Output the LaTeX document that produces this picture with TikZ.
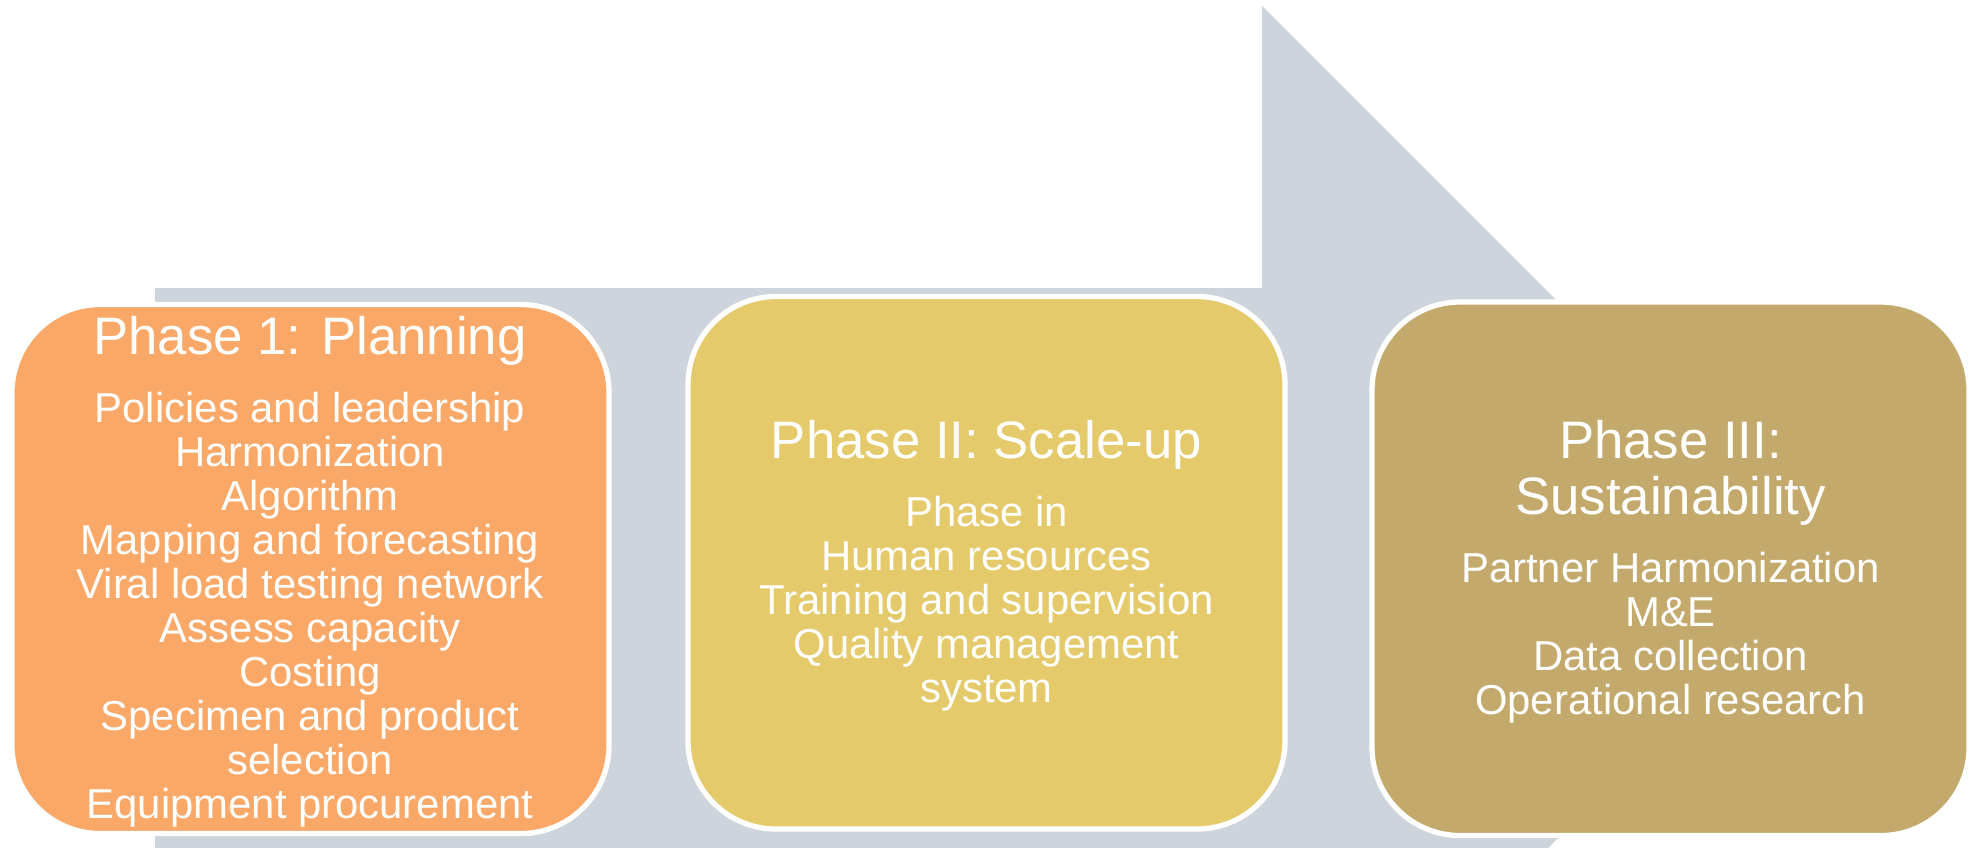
\documentclass[tikz,border=0pt]{standalone}
\usepackage{fontspec}
\setmainfont{Liberation Sans}
\usepackage{tikz}
\definecolor{arrowgrey}{RGB}{205,212,220}
\definecolor{phaseorange}{RGB}{249,168,104}
\definecolor{phaseyellow}{RGB}{228,202,106}
\definecolor{phasetan}{RGB}{195,169,107}
\tikzset{
	phasebox/.style={draw=white, line width=1.5pt, rounded corners=0.88cm},
	phasetitle/.style={text=white, anchor=base, inner sep=0pt, font=\fontsize{15}{16}\selectfont},
	phaseitem/.style={text=white, anchor=base, inner sep=0pt, font=\fontsize{11.9}{12.6}\selectfont}
}

\begin{document}
\begin{tikzpicture}[x=0.01cm, y=-0.01cm]
	\useasboundingbox (0,0) rectangle (1977,847);
	\begin{scope}
		\clip (0,0) rectangle (1977,847);
		\fill[arrowgrey] (155,288) -- (1262,288) -- (1262,6) -- (1826,570) -- (1262,1134) -- (1262,852) -- (155,852) -- cycle;
	\end{scope}

	\draw[phasebox, fill=phaseorange] (12,304.5) rectangle (609,833.5);
	\draw[phasebox, fill=phaseyellow] (688,296.5) rectangle (1285,829);
	\draw[phasebox, fill=phasetan] (1372,302) rectangle (1969,835.5);

	\node[phasetitle] (t1) at (310,354) {Phase 1: Planning};
	\foreach \txt [count=\i from 0] in {Policies and leadership, Harmonization, Algorithm, Mapping and forecasting, Viral load testing network, Assess capacity, Costing, Specimen and product, selection, Equipment procurement}
		\node[phaseitem] (a\i) at (310,422+44.1*\i) {\txt};

	\node[phasetitle] (t2) at (986.5,458) {Phase II: Scale-up};
	\foreach \txt [count=\i from 0] in {Phase in, Human resources, Training and supervision, Quality management, system}
		\node[phaseitem] (b\i) at (986.5,526+44*\i) {\txt};

	\node[phasetitle] (t3) at (1670.5,458) {Phase III:};
	\node[phasetitle] (t3b) at (1670.5,514) {Sustainability};
	\foreach \txt [count=\i from 0] in {Partner Harmonization, M\&E, Data collection, Operational research}
		\node[phaseitem] (c\i) at (1670.5,582+44*\i) {\txt};
\end{tikzpicture}
\end{document}
